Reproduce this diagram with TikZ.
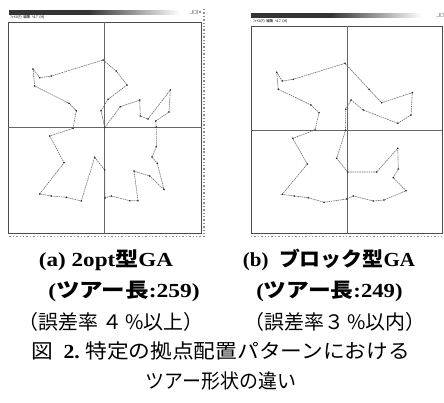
\documentclass[tikz,border=0pt]{standalone}
\usepackage{graphicx}
\usepackage{fontspec}
\setmainfont{Liberation Serif}
\newfontfamily\jp{Noto Sans CJK JP}
\newfontfamily\sym{DejaVu Sans}
\begin{document}
\begin{tikzpicture}[x=1bp,y=-1bp,
  frame/.style={draw=black!70, line width=0.8bp},
  border/.style={draw=black!45, line width=1.4bp, dotted},
  axis/.style={draw=black!60, line width=0.7bp},
  tour/.style={draw=black!55, line width=0.6bp, dash pattern=on 1.6bp off 0.7bp},
  vtx/.style={fill=black!85},
  captext/.style={font=\fontsize{20}{22}\selectfont, inner sep=0pt, anchor=center},
  menu/.style={font=\jp\fontsize{3.6}{4}\selectfont, inner sep=0pt, anchor=west},
  btn/.style={font=\sym\fontsize{4}{4}\selectfont, inner sep=0pt, anchor=east}]
\useasboundingbox (0,0) rectangle (444,402);

% ---------- left window ----------
\fill[black!80] (9,10) rectangle (88,14.5);
\shade[left color=black!80, right color=white] (88,10) rectangle (180,14.5);
\node[menu] (lmenu) at (10,17.8) {ﾌｧｲﾙ(F)\ \ 編集\ \ ﾍﾙﾌﾟ(H)};
\node[btn] (lbtn) at (202,12.3) {\_|□|×};
\draw[frame] (8.3,22) rectangle (201.7,233.5);
\draw[border] (204,9) -- (204,236.5) -- (8,236.5);
\draw[axis] (104.7,22) -- (104.7,233.5);
\draw[axis] (8.3,127.5) -- (201.7,127.5);

\foreach \x/\y [count=\i] in {
 104.7/127.5,101/110.7,108/99.3,127/85,116.3/71,103/60,
 51.3/76,39.7/77.7,33/69,34.7/86,69/103.3,76.3/110.7,
 73/128.3,49.7/136,64/162.7,39.7/194,51.3/196,66.3/197.3,
 81.3/201,94.7/157.3,104.7/170,105/198,111.3/196,129.7/200.7,
 138/200.7,134/171,149.7/176,164/189.5,157.3/163.3,152/157,
 156.3/146.7,156.3/127,155.7/121,169/112,170.3/90,148/119,
 140.3/116,139.7/100,120.3/106.7}
  {\coordinate (L\i) at (\x,\y);}
\draw[tour] (L1) \foreach \i in {2,...,39}{ -- (L\i)} -- cycle;
\foreach \i in {1,...,39} \fill[vtx] (L\i) circle (0.9bp);

% ---------- right window ----------
\fill[black!80] (251,13) rectangle (330,17.5);
\shade[left color=black!80, right color=white] (330,13) rectangle (422,17.5);
\node[menu] (rmenu) at (253,21.2) {ﾌｧｲﾙ(F)\ \ 編集\ \ ﾍﾙﾌﾟ(H)};
\node[btn] (rbtn) at (444,15.3) {\_|□};
\draw[frame] (251.3,26) rectangle (442,233.5);
\draw[border] (251,236.5) -- (444,236.5);
\draw[axis] (347,26) -- (347,233.5);
\draw[axis] (251.3,130) -- (442,130);

\foreach \x/\y [count=\i] in {
 276.7/72.3,282.3/81,293.3/79.3,345/63.3,369/89.3,381.7/102.7,
 412.3/92.7,411/115,397.7/123.3,363.3/110,351/100,345.7/109.3,
 345.5/130.5,336.7/158.3,347.7/172,376.7/172,397.7/148.3,398.3/169,
 393.3/177.7,406/190.7,384/200,373.3/201,353.3/196,346.7/199,
 324/202.3,308.3/197.7,294.3/196,282.3/194.3,307.3/164,292.7/138.3,
 315/130,319/112.7,311/105,278.3/89.3}
  {\coordinate (R\i) at (\x,\y);}
\draw[tour] (R1) \foreach \i in {2,...,34}{ -- (R\i)} -- cycle;
\foreach \i in {1,...,34} \fill[vtx] (R\i) circle (0.9bp);

% ---------- captions ----------
\node[captext] (ca) at (106,260) {\scalebox{1.16}[1]{\bfseries (a) 2opt{\jp 型}GA}};
\node[captext] (cb) at (329,260) {\scalebox{1.05}[1]{\bfseries (b)\ \ {\jp ブロック型}GA}};
\node[captext] (la) at (124,291) {\scalebox{1.18}[1]{\bfseries ({\jp ツアー長}:259)}};
\node[captext] (lb) at (329.5,291) {\scalebox{1.14}[1]{\bfseries ({\jp ツアー長}:249)}};
\node[captext] (ea) at (111,322) {\jp （誤差率\ ４\,\%以上）};
\node[captext] (eb) at (335,322) {\jp （誤差率３\,\%以内）};
\node[captext] (f1) at (220.5,351) {\scalebox{1.09}[1]{{\jp 図}\ \ \textbf{2.}\ {\jp 特定の拠点配置パターンにおける}}};
\node[captext] (f2) at (221,381) {\scalebox{0.95}[1]{\jp ツアー形状の違い}};
\end{tikzpicture}
\end{document}
